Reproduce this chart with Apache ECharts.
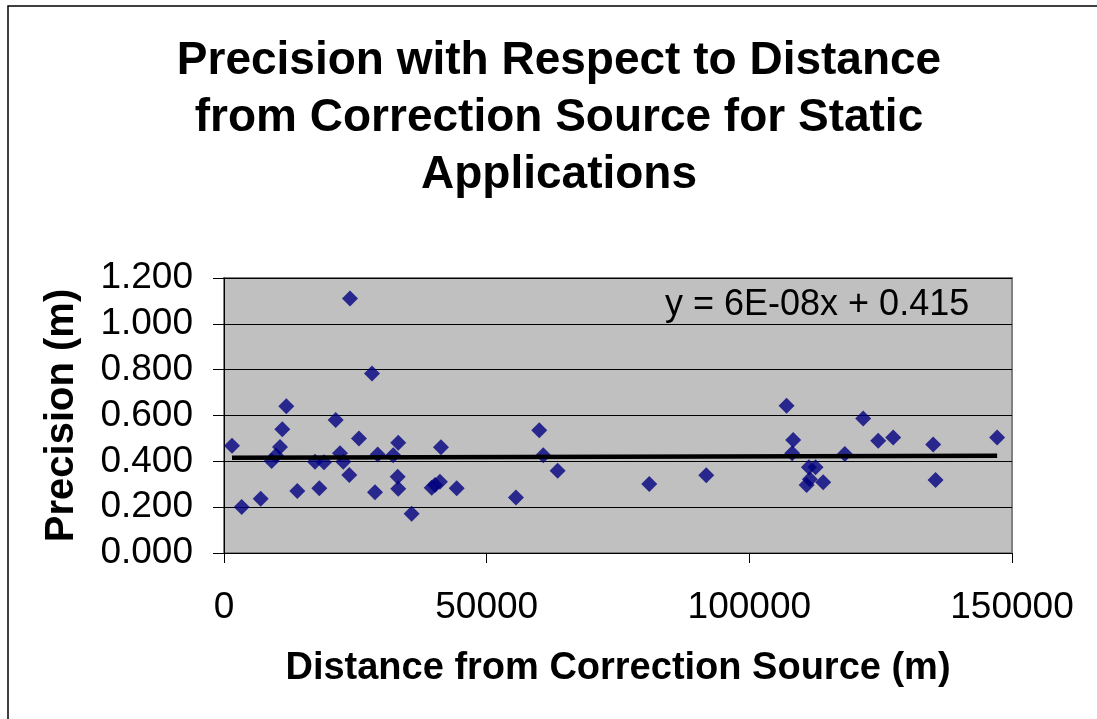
<!DOCTYPE html>
<html>
<head>
<meta charset="utf-8">
<title>Precision vs Distance</title>
<script src="https://cdn.jsdelivr.net/npm/echarts@6/dist/echarts.min.js"></script>
<style>
  html, body { margin: 0; padding: 0; background: #fff; }
  #main { width: 1097px; height: 719px; }
</style>
</head>
<body>
<div id="main"></div>
<script>
// distance from correction source (m)
var distance = [
  1520, 3370, 6980, 9070, 9900, 10660, 11100, 11860, 13950, 17320,
  18140, 19030, 21260, 22080, 22710, 23980, 23850, 25690, 28170, 28740,
  29250, 32220, 33170, 33060, 33170, 35720, 39530, 40160, 41110, 41300,
  44290, 55570, 60010, 60770, 63510, 80950, 91800, 107090, 108350, 108160,
  111340, 112610, 110900, 111530, 114060, 118180, 121670, 124530, 127380, 135000,
  135450, 147170
];
// precision (m)
var precision = [
  0.468, 0.201, 0.237, 0.401, 0.425, 0.463, 0.540, 0.640, 0.271, 0.398,
  0.283, 0.396, 0.580, 0.435, 0.398, 1.111, 0.340, 0.500, 0.783, 0.265,
  0.430, 0.427, 0.481, 0.333, 0.280, 0.171, 0.285, 0.297, 0.311, 0.461,
  0.283, 0.242, 0.536, 0.427, 0.359, 0.301, 0.339, 0.643, 0.493, 0.435,
  0.374, 0.374, 0.297, 0.322, 0.309, 0.432, 0.587, 0.490, 0.504, 0.474,
  0.319, 0.504
];
// linear trendline from the chart
var trendSlope = 6e-8;
var trendIntercept = 0.415;
var trendLabel = 'y = 6E-08x + 0.415';

var points = distance.map(function (d, i) { return [d, precision[i]]; });
var xMin = Math.min.apply(null, distance);
var xMax = Math.max.apply(null, distance);
var trend = [
  [xMin, trendSlope * xMin + trendIntercept],
  [xMax, trendSlope * xMax + trendIntercept]
];

var FONT = '"Liberation Sans", Arial, sans-serif';

var chart = echarts.init(document.getElementById('main'), null, { renderer: 'canvas' });
chart.setOption({
  backgroundColor: '#ffffff',
  animation: false,
  title: {
    text: 'Precision with Respect to Distance\nfrom Correction Source for Static\nApplications',
    left: 554,
    top: 28,
    textAlign: 'center',
    textStyle: {
      fontFamily: FONT,
      fontSize: 46,
      fontWeight: 'bold',
      color: '#000',
      lineHeight: 57
    }
  },
  graphic: [
    {
      type: 'rect',
      shape: { x: 8, y: 6, width: 1200, height: 800 },
      style: { fill: 'none', stroke: '#000', lineWidth: 1.5 },
      silent: true,
      z: -1
    },
    {
      type: 'text',
      left: 665,
      top: 287,
      style: {
        text: trendLabel,
        fontFamily: FONT,
        fontSize: 36,
        fill: '#000'
      },
      z: 10
    }
  ],
  grid: {
    left: 224,
    top: 278,
    right: 85,
    bottom: 166,
    show: true,
    backgroundColor: '#c0c0c0',
    borderColor: '#808080',
    borderWidth: 2
  },
  xAxis: {
    type: 'value',
    min: 0,
    max: 150000,
    interval: 50000,
    name: 'Distance from Correction Source (m)',
    nameLocation: 'middle',
    nameGap: 97,
    nameTextStyle: { fontFamily: FONT, fontSize: 38, fontWeight: 'bold', color: '#000' },
    axisLine: { show: true, lineStyle: { color: '#000', width: 1 } },
    axisTick: { show: true, inside: false, length: 10, lineStyle: { color: '#000' } },
    axisLabel: {
      margin: 36,
      fontFamily: FONT,
      fontSize: 37,
      color: '#000',
      formatter: function (v) { return String(v); }
    },
    splitLine: { show: false }
  },
  yAxis: {
    type: 'value',
    min: 0,
    max: 1.2,
    interval: 0.2,
    name: 'Precision (m)',
    nameLocation: 'middle',
    nameGap: 142,
    nameRotate: 90,
    nameTextStyle: { fontFamily: FONT, fontSize: 40, fontWeight: 'bold', color: '#000' },
    axisLine: { show: true, lineStyle: { color: '#000', width: 1 } },
    axisTick: { show: true, inside: false, length: 11, lineStyle: { color: '#000' } },
    axisLabel: {
      margin: 31,
      fontFamily: FONT,
      fontSize: 37,
      color: '#000',
      formatter: function (v) { return v.toFixed(3); }
    },
    splitLine: { show: true, lineStyle: { color: '#000', width: 1 } }
  },
  series: [
    {
      type: 'scatter',
      data: points,
      symbol: 'diamond',
      symbolSize: 16,
      itemStyle: { color: '#000080' },
      z: 3
    },
    {
      type: 'line',
      data: trend,
      symbol: 'none',
      lineStyle: { color: '#000', width: 4.5 },
      z: 4
    }
  ]
});
</script>
</body>
</html>
